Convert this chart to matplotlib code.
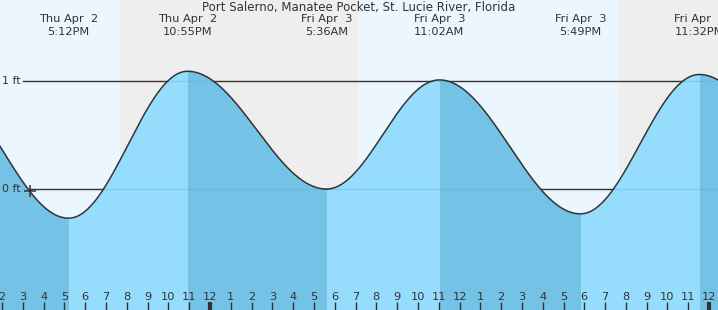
import numpy as np
import matplotlib
matplotlib.use("Agg")
import matplotlib.pyplot as plt
import matplotlib.transforms as mtransforms
from matplotlib.path import Path

# hours counted from Thu Apr 2 00:00
extreme_times = [10.8, 17.2, 22.917, 29.6, 35.033, 41.817, 47.533, 53.9]
extreme_heights = [1.00, -0.27, 1.09, 0.00, 1.01, -0.23, 1.06, 0.02]
extreme_labels = [None, ("Thu Apr  2", "5:12PM"), ("Thu Apr  2", "10:55PM"),
                  ("Fri Apr  3", "5:36AM"), ("Fri Apr  3", "11:02AM"),
                  ("Fri Apr  3", "5:49PM"), ("Fri Apr  3", "11:32PM"), None]
sunsets = [19.67, 43.67]
sunrises = [31.12]
now_time = 15.33
title = "Port Salerno, Manatee Pocket, St. Lucie River, Florida"

x0, x1 = 13.9, 48.43
y0, y1 = -1.12, 1.75

day_bg = "#ebf6ff"
night_bg = "#eeeeee"
fall_col = "#74c2e6"
rise_col = "#96dcfd"
txt_col = "#333333"

fig = plt.figure(figsize=(7.18, 3.10), dpi=100)
ax = fig.add_axes([0, 0, 1, 1])
ax.set_xlim(x0, x1)
ax.set_ylim(y0, y1)
ax.axis("off")

# day / night background
ax.axvspan(x0, sunsets[0], color=day_bg, zorder=0, lw=0)
ax.axvspan(sunsets[0], sunrises[0], color=night_bg, zorder=0, lw=0)
ax.axvspan(sunrises[0], sunsets[1], color=day_bg, zorder=0, lw=0)
ax.axvspan(sunsets[1], x1, color=night_bg, zorder=0, lw=0)

# tide curve between extremes
all_t, all_h = [], []
for i in range(len(extreme_times) - 1):
    ta, tb = extreme_times[i], extreme_times[i + 1]
    ha, hb = extreme_heights[i], extreme_heights[i + 1]
    t = np.linspace(ta, tb, 120)
    h = hb + (ha - hb) * (1 + np.cos(np.pi * (t - ta) / (tb - ta))) / 2
    col = fall_col if hb < ha else rise_col
    ax.fill_between(t, y0, h, color=col, lw=0, zorder=2)
    all_t.append(t)
    all_h.append(h)
all_t = np.concatenate(all_t)
all_h = np.concatenate(all_h)
ax.plot(all_t, all_h, color="#333333", lw=1.1, zorder=3)

water = Path(np.column_stack([np.r_[all_t[0], all_t, all_t[-1]],
                              np.r_[y0 - 1, all_h, y0 - 1]]))

# reference lines
for lvl, lab in [(1, "1 ft"), (0, "0 ft")]:
    ax.plot([15.0, x1], [lvl, lvl], color="#333333", lw=1, zorder=1)
    ax.text(13.98, lvl, lab, ha="left", va="center", fontsize=8, color=txt_col, zorder=5)
    faint, = ax.plot([15.0, x1], [lvl, lvl], color="#5aaed6", lw=1, zorder=2.5, alpha=0.35)
    faint.set_clip_path(water, ax.transData)

ax.plot([now_time], [np.interp(now_time, all_t, all_h)], marker="+", color="#333333",
        ms=9, mew=1.1, zorder=4)

# labels of extremes
for t, lab in zip(extreme_times, extreme_labels):
    if lab is None:
        continue
    ax.text(t, y1 - (19 / 310) * (y1 - y0), lab[0], ha="center", va="center",
            fontsize=8.2, color=txt_col, zorder=5)
    ax.text(t, y1 - (32 / 310) * (y1 - y0), lab[1], ha="center", va="center",
            fontsize=8.2, color=txt_col, zorder=5)

ax.text(0.5, 1 - 7 / 310, title, transform=ax.transAxes, ha="center", va="center",
        fontsize=8.5, color=txt_col, zorder=5)

# hour ticks
trans = mtransforms.blended_transform_factory(ax.transData, ax.transAxes)
for hr in range(14, 49):
    lab = hr % 12
    if lab == 0:
        lab = 12
    ax.text(hr, 1 - 297 / 310, str(lab), transform=trans, ha="center", va="center",
            fontsize=8.2, color=txt_col, zorder=5)
    lw = 3 if hr % 24 == 0 else 1
    ax.plot([hr, hr], [0, 8 / 310], transform=trans, color="#333333", lw=lw,
            zorder=5, solid_capstyle="butt")

fig.savefig("out.png", dpi=100)
